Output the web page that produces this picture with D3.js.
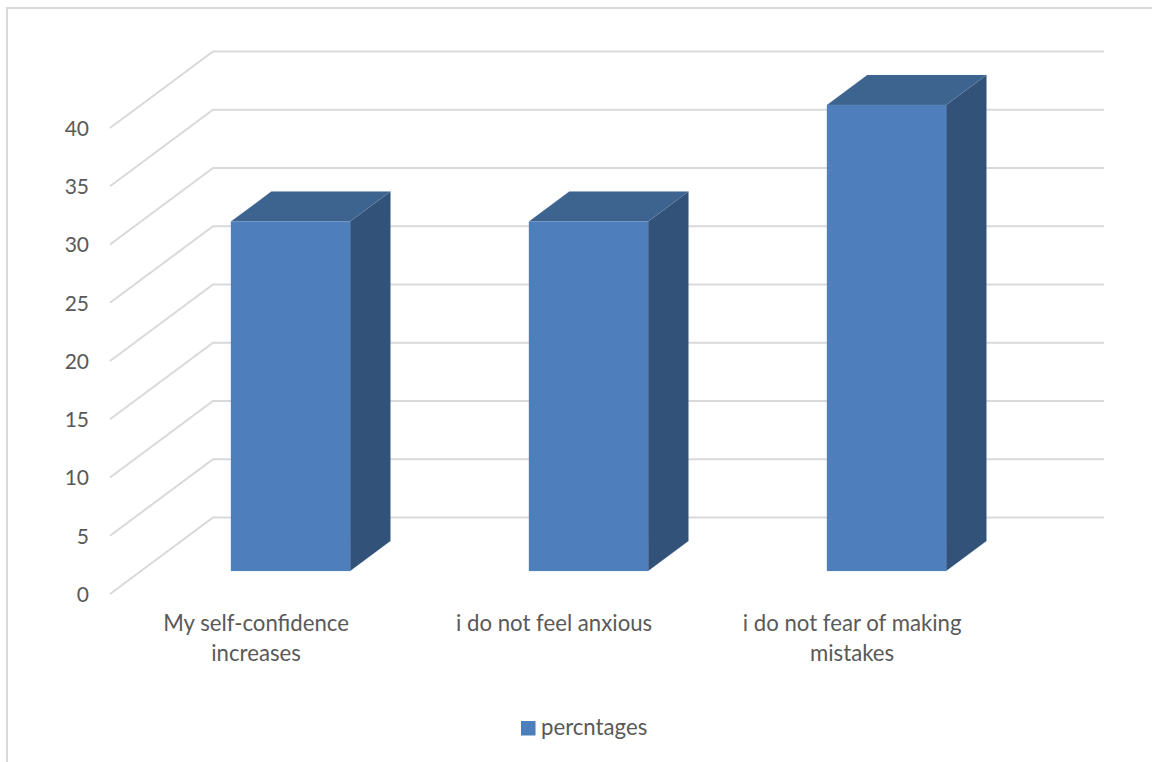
<!DOCTYPE html>
<html>
<head>
<meta charset="utf-8">
<script src="https://cdnjs.cloudflare.com/ajax/libs/d3/7.8.5/d3.min.js"></script>
<style>
    html, body { margin: 0; padding: 0; background: #fff; }
    svg { display: block; }
    text { font-family: Lato, "Open Sans", sans-serif; fill: #595959; }
    .grid-line { stroke: #d9d9d9; stroke-width: 2; fill: none; }
    .chart-frame { stroke: #d9d9d9; stroke-width: 2; fill: none; }
</style>
</head>
<body>
<div id="chart"></div>
<script>
const categories = ['My self-confidence increases', 'i do not feel anxious', 'i do not fear of making mistakes']
const categoryLines = [['My self-confidence', 'increases'], ['i do not feel anxious'], ['i do not fear of making', 'mistakes']]
const percentages = [30, 30, 40]
const yTicks = [0, 5, 10, 15, 20, 25, 30, 35, 40]
const seriesName = 'percntages'

const width = 1152
const height = 762

const colorFront = '#4e7fbc'
const colorTop = '#3d638f'
const colorSide = '#325279'
const colorEdge = '#7f9fc6'

// oblique projection: z = 0 is the front of the floor, z = 1 the back wall
const depthX = 103
const depthY = -76.5
const project = (x, y, z) => [x + depthX * z, y + depthY * z]

const x = d3.scaleBand()
    .domain(categories)
    .range([110.6, 1004.6])
    .paddingInner(0.6)
    .paddingOuter(0.3)

const y = d3.scaleLinear()
    .domain([0, 40])
    .range([594, 128])

const barFrontZ = 0.3
const barBackZ = 0.692
const labelShift = -3.5
const labelSize = 22.2

const svg = d3.select('#chart').append('svg')
    .attr('width', width)
    .attr('height', height)

svg.append('path')
    .attr('class', 'chart-frame')
    .attr('d', `M7,${height}V8H${width}`)

// gridlines run along the side wall, then across the back wall
const grid = svg.append('g').attr('class', 'g-grid')
grid.selectAll('path')
    .data(yTicks)
    .join('path')
    .attr('class', 'grid-line')
    .attr('d', d => {
        const back = project(110, y(d), 1)
        return `M110,${y(d)}L${back[0]},${back[1]}H1104`
    })

const yAxis = d3.axisLeft(y)
    .tickValues(yTicks)
    .tickSize(0)
    .tickPadding(0)

const gAxis = svg.append('g')
    .attr('class', 'g-axis-y')
    .attr('transform', 'translate(89,0)')
    .call(yAxis)
gAxis.select('.domain').remove()
gAxis.selectAll('text')
    .attr('font-size', 21)
    .attr('dy', '0.35em')

function facePath (points) {
    return 'M' + points.map(p => p.join(',')).join('L') + 'Z'
}

const bars = svg.append('g')
    .attr('class', 'g-bars')
    .selectAll('g')
    .data(categories.map((name, i) => ({ name, value: percentages[i] })))
    .join('g')
    .attr('stroke', colorEdge)
    .attr('stroke-width', 0.5)
    .attr('stroke-opacity', 0.35)

bars.append('path')
    .attr('fill', colorTop)
    .attr('d', d => {
        const x0 = x(d.name)
        const x1 = x0 + x.bandwidth()
        const top = y(d.value)
        return facePath([
            project(x0, top, barFrontZ),
            project(x0, top, barBackZ),
            project(x1, top, barBackZ),
            project(x1, top, barFrontZ)
        ])
    })

bars.append('path')
    .attr('fill', colorSide)
    .attr('d', d => {
        const x1 = x(d.name) + x.bandwidth()
        return facePath([
            project(x1, y(0), barFrontZ),
            project(x1, y(d.value), barFrontZ),
            project(x1, y(d.value), barBackZ),
            project(x1, y(0), barBackZ)
        ])
    })

bars.append('path')
    .attr('fill', colorFront)
    .attr('d', d => {
        const x0 = x(d.name)
        const x1 = x0 + x.bandwidth()
        return facePath([
            project(x0, y(0), barFrontZ),
            project(x0, y(d.value), barFrontZ),
            project(x1, y(d.value), barFrontZ),
            project(x1, y(0), barFrontZ)
        ])
    })

// category labels sit under the front edge of the floor
const labels = svg.append('g')
    .attr('class', 'g-axis-x')
    .selectAll('text')
    .data(categories)
    .join('text')
    .attr('text-anchor', 'middle')
    .attr('font-size', labelSize)
    .attr('y', 631)

labels.selectAll('tspan')
    .data((d, i) => categoryLines[i])
    .join('tspan')
    .attr('x', function () {
        const name = d3.select(this.parentNode).datum()
        return x(name) + x.bandwidth() / 2 + labelShift
    })
    .attr('dy', (d, i) => i === 0 ? 0 : 30)
    .text(d => d)

const legend = svg.append('g').attr('class', 'g-legend')
legend.append('rect')
    .attr('x', 521)
    .attr('y', 721)
    .attr('width', 14.5)
    .attr('height', 14.5)
    .attr('fill', colorFront)
legend.append('text')
    .attr('x', 541)
    .attr('y', 735)
    .attr('font-size', labelSize)
    .text(seriesName)
</script>
</body>
</html>
